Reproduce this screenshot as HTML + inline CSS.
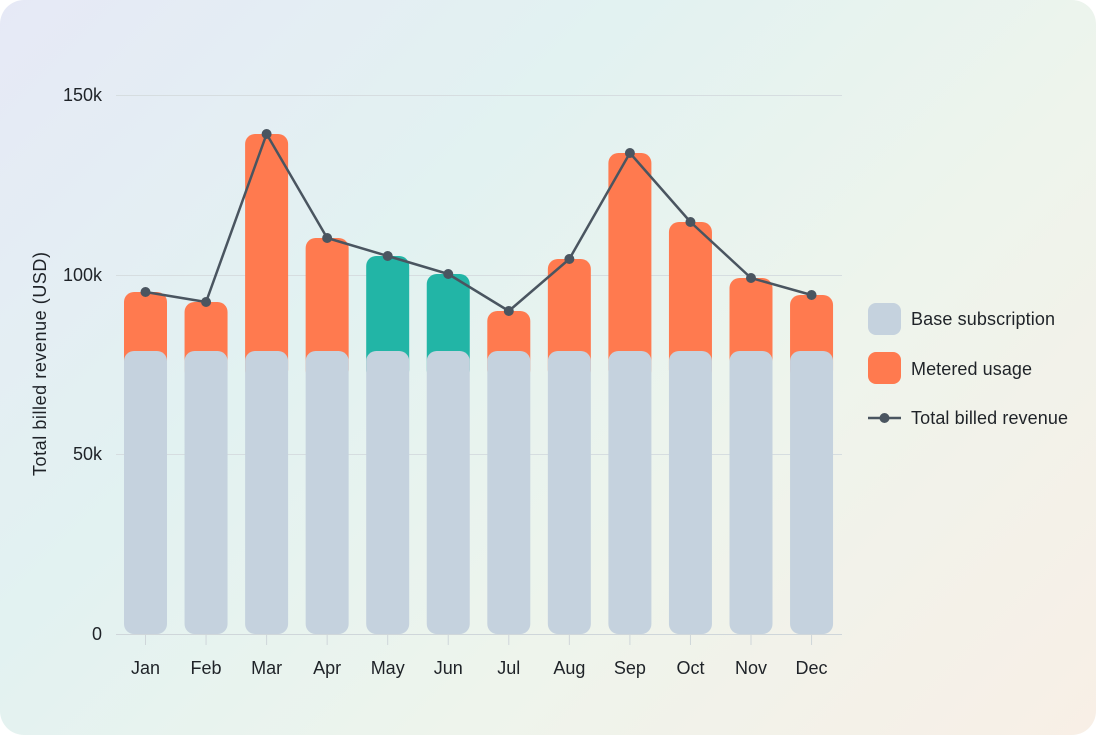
<!DOCTYPE html>
<html><head><meta charset="utf-8"><style>
html,body{margin:0;padding:0;background:#fff;}
.card{position:absolute;left:0;top:0;width:1096px;height:735px;border-radius:24px;overflow:hidden;
background:linear-gradient(135deg,#e6e9f6 0%,#e2f2f1 35%,#eef4ec 65%,#f8efe6 100%);}
svg{position:absolute;left:0;top:0;}
text{font-family:"Liberation Sans",sans-serif;fill:#1f2328;}
</style></head><body>
<div class="card">
<svg width="1096" height="735" viewBox="0 0 1096 735">
<g stroke="#d6dde0" stroke-width="1">
<line x1="116" y1="95.5" x2="842" y2="95.5"/>
<line x1="116" y1="275.5" x2="842" y2="275.5"/>
<line x1="116" y1="454.5" x2="842" y2="454.5"/>
</g>
<g font-size="18" text-anchor="end">
<text x="102" y="101">150k</text>
<text x="102" y="281">100k</text>
<text x="102" y="460">50k</text>
<text x="102" y="640">0</text>
</g>
<text font-size="18" transform="translate(46,364) rotate(-90)" text-anchor="middle" textLength="224">Total billed revenue (USD)</text>
<g id="bars"></g>
<line x1="116" y1="634.5" x2="842" y2="634.5" stroke="#cfd6da" stroke-width="1"/>
<g id="ticks" stroke="#cfd6da"></g>
<g id="labels" font-size="18" text-anchor="middle"></g>
<polyline id="line" fill="none" stroke="#4a5560" stroke-width="2.5" stroke-linejoin="round"/>
<g id="dots" fill="#4a5560"></g>
<rect x="868" y="303" width="33" height="32" rx="8" fill="#c5d2de"/>
<rect x="868" y="352" width="33" height="32" rx="8" fill="#ff7a4f"/>
<line x1="868" y1="418" x2="901" y2="418" stroke="#4a5560" stroke-width="2.5"/>
<circle cx="884.5" cy="418" r="5" fill="#4a5560"/>
<g font-size="18">
<text x="911" y="325" textLength="144">Base subscription</text>
<text x="911" y="375" textLength="121">Metered usage</text>
<text x="911" y="424" textLength="157">Total billed revenue</text>
</g>
</svg>
</div>
<script>
var m=["Jan","Feb","Mar","Apr","May","Jun","Jul","Aug","Sep","Oct","Nov","Dec"];
var tops=[292,302,134,238,256,274,311,259,153,222,278,295];
var ns="http://www.w3.org/2000/svg";
function el(t,a,p){var e=document.createElementNS(ns,t);for(var k in a)e.setAttribute(k,a[k]);document.getElementById(p).appendChild(e);return e;}
var pts=[];
for(var i=0;i<12;i++){
 var cx=145.5+i*60.55, x=cx-21.5, w=43;
 var c=(i==4||i==5)?"#22b5a6":"#ff7a4f";
 el("rect",{x:x,y:tops[i],width:w,height:380-tops[i],rx:10,fill:c},"bars");
 el("rect",{x:x,y:351,width:w,height:283,rx:10,fill:"#c5d2de"},"bars");
 el("line",{x1:cx,y1:635,x2:cx,y2:645},"ticks");
 var t=el("text",{x:cx,y:674},"labels");t.textContent=m[i];
 pts.push(cx+","+tops[i]);
 el("circle",{cx:cx,cy:tops[i],r:5},"dots");
}
document.getElementById("line").setAttribute("points",pts.join(" "));
</script>
</body></html>
